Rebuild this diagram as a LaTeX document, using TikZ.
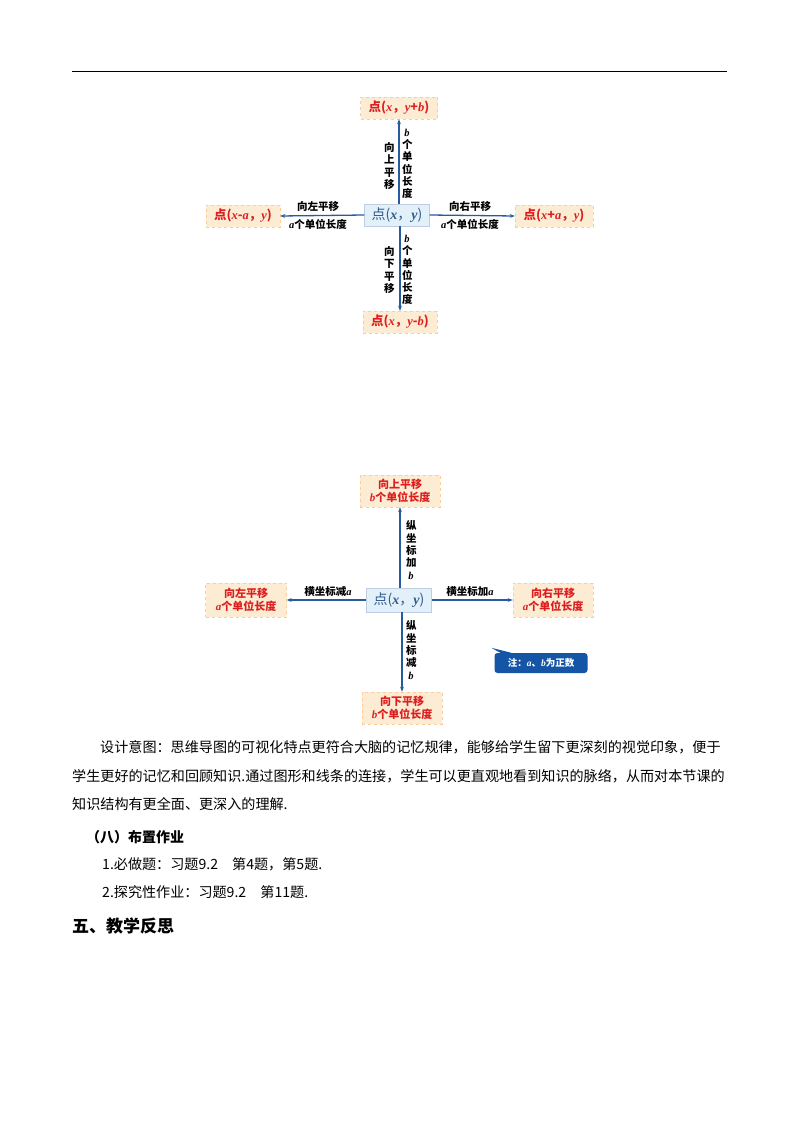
\documentclass[tikz,border=0pt]{standalone}
\usepackage{fontspec}
\setmainfont{Noto Sans CJK SC}
\newfontfamily\lser{Liberation Serif}
\newcommand{\V}[1]{{\lser\itshape\bfseries #1}}
\definecolor{rd}{RGB}{220,30,30}
\definecolor{ar}{RGB}{40,90,160}
\definecolor{bx}{RGB}{253,236,212}
\definecolor{cb}{RGB}{226,240,250}
\definecolor{ct}{RGB}{50,90,140}
\definecolor{nt}{RGB}{20,85,165}
\usetikzlibrary{arrows.meta}
\tikzset{
 obox/.style={fill=bx,draw=orange!40,dashed,text=rd,font=\fontsize{12.5}{14}\selectfont\bfseries,inner sep=3pt,align=center},
 cbox/.style={fill=cb,draw=ar!30,text=ct,font=\fontsize{14}{15}\selectfont,inner sep=3pt},
 arr/.style={draw=ar,line width=1.3pt,-{Stealth[length=5pt]}},
 lab/.style={font=\fontsize{10.5}{12}\selectfont\bfseries,inner sep=1pt,align=center},
 vlab/.style={lab,text width=1em,font=\fontsize{10.5}{12.3}\selectfont\bfseries},
 body/.style={font=\fontsize{14.1}{16}\selectfont,anchor=west,inner sep=0pt},
}
\begin{document}
\begin{tikzpicture}[x=1pt,y=-1pt]
\useasboundingbox (0,0) rectangle (800,1132);
\draw[line width=0.8pt] (72,71) -- (727,71);
% diagram 1
\node[cbox,minimum width=65,minimum height=22] (c1) at (397,215) {点(\V{x}，\V{y})};
\node[obox,minimum width=77,minimum height=22] (t1) at (399,108) {点(\V{x}，\V{y}+\V{b})};
\node[obox,minimum width=74,minimum height=22] (b1) at (400,322) {点(\V{x}，\V{y}-\V{b})};
\node[obox,minimum width=74,minimum height=22] (l1) at (243,216) {点(\V{x}-\V{a}，\V{y})};
\node[obox,minimum width=78,minimum height=22] (r1) at (554,216) {点(\V{x}+\V{a}，\V{y})};
\draw[arr] (c1.north -| t1.south) -- (t1.south);
\draw[arr] (c1.south -| b1.north) -- (b1.north);
\draw[arr] (c1.west) -- (l1.east);
\draw[arr] (c1.east) -- (r1.west);
\node[vlab] (u1a) at (389,166) {向\\上\\平\\移};
\node[vlab] (u1b) at (407,164) {\V{b}\\个\\单\\位\\长\\度};
\node[vlab] (d1a) at (389,270) {向\\下\\平\\移};
\node[vlab] (d1b) at (407,270) {\V{b}\\个\\单\\位\\长\\度};
\node[lab] (l1a) at (318,207) {向左平移};
\node[lab] (l1b) at (318,224) {\V{a}个单位长度};
\node[lab] (r1a) at (470,207) {向右平移};
\node[lab] (r1b) at (470,224) {\V{a}个单位长度};
% diagram 2
\node[cbox,minimum width=65,minimum height=24] (c2) at (399,600) {点(\V{x}，\V{y})};
\node[obox,minimum width=80,minimum height=32,font=\fontsize{11}{13}\selectfont\bfseries] (t2) at (400,491) {向上平移\\\V{b}个单位长度};
\node[obox,minimum width=80,minimum height=32,font=\fontsize{11}{13}\selectfont\bfseries] (b2) at (402,708) {向下平移\\\V{b}个单位长度};
\node[obox,minimum width=81,minimum height=34,font=\fontsize{11}{13}\selectfont\bfseries] (l2) at (246,600) {向左平移\\\V{a}个单位长度};
\node[obox,minimum width=80,minimum height=34,font=\fontsize{11}{13}\selectfont\bfseries] (r2) at (553,600) {向右平移\\\V{a}个单位长度};
\draw[arr] (c2.north -| t2.south) -- (t2.south);
\draw[arr] (c2.south -| b2.north) -- (b2.north);
\draw[arr] (c2.west) -- (l2.east);
\draw[arr] (c2.east) -- (r2.west);
\node[vlab] (u2) at (411,550) {纵\\坐\\标\\加\\\V{b}};
\node[vlab] (d2) at (411,650) {纵\\坐\\标\\减\\\V{b}};
\node[lab] (l2a) at (328,592) {横坐标减\V{a}};
\node[lab] (r2a) at (470,592) {横坐标加\V{a}};
\node[fill=nt,text=white,rounded corners=3pt,minimum width=93,minimum height=20,font=\fontsize{9.5}{11}\selectfont\bfseries] (nt) at (541,663) {注：\V{a}、\V{b}为正数};
\fill[nt] (nt.north west) ++(6,0) -- ++(-9,-5) -- ++(20,5) -- cycle;
% text
\node[body] (p1) at (100,747) {设计意图：思维导图的可视化特点更符合大脑的记忆规律，能够给学生留下更深刻的视觉印象，便于};
\node[body] (p2) at (72,776) {学生更好的记忆和回顾知识.通过图形和线条的连接，学生可以更直观地看到知识的脉络，从而对本节课的};
\node[body] (p3) at (72,804) {知识结构有更全面、更深入的理解.};
\node[body,font=\fontsize{14}{16}\selectfont\bfseries] (h8) at (86,837) {（八）布置作业};
\node[body] (w1) at (102,864) {1.必做题：习题9.2\quad 第4题，第5题.};
\node[body] (w2) at (102,892) {2.探究性作业：习题9.2\quad 第11题.};
\node[body,font=\fontsize{17}{19}\selectfont\bfseries] (h5) at (72,926) {五、教学反思};
\end{tikzpicture}
\end{document}
